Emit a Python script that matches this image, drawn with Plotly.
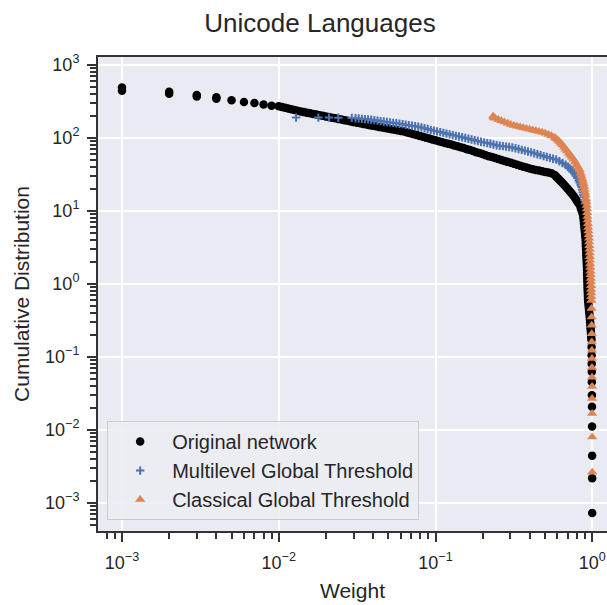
import plotly.graph_objects as go

# ---------------- data ----------------
# Original network
orig_w = [0.001, 0.001, 0.002, 0.002, 0.003, 0.003, 0.004, 0.004, 0.005, 0.006, 0.007, 0.008, 0.009,
          0.01000, 0.01047, 0.01096, 0.01148, 0.01202, 0.01259, 0.01318, 0.01380,
          0.01445, 0.01514, 0.01585, 0.01660, 0.01738, 0.01820, 0.01905, 0.01995, 0.02089, 0.02188,
          0.02291, 0.02399, 0.02512, 0.02630, 0.02754, 0.02884, 0.03020, 0.03162, 0.03311, 0.03467,
          0.03631, 0.03802, 0.03981, 0.04169, 0.04365, 0.04571, 0.04786, 0.05012, 0.05248, 0.05495,
          0.05754, 0.06026, 0.06310, 0.06607, 0.06918, 0.07244, 0.07586, 0.07943, 0.08318, 0.08710,
          0.09120, 0.09550, 0.1000, 0.1047, 0.1096, 0.1148, 0.1202, 0.1259, 0.1318, 0.1380,
          0.1445, 0.1514, 0.1585, 0.1660, 0.1738, 0.1820, 0.1905, 0.1995, 0.2089, 0.2188,
          0.2291, 0.2399, 0.2512, 0.2630, 0.2754, 0.2884, 0.3020, 0.3162, 0.3311, 0.3467,
          0.3631, 0.3802, 0.3981, 0.4169, 0.4365, 0.4571, 0.4786, 0.5012, 0.5248, 0.5495,
          0.5754, 0.5888, 0.6026, 0.6166, 0.6310, 0.6457, 0.6607, 0.6761, 0.6918, 0.7079,
          0.7244, 0.7413, 0.7586, 0.7762, 0.7943, 0.8128, 0.8318,
          0.846, 0.859, 0.871, 0.8774, 0.8814, 0.8851, 0.8889, 0.8928, 0.8965, 0.9004,
          0.9043, 0.9078, 0.9097, 0.9116, 0.9135, 0.9154, 0.9171, 0.9190, 0.9209, 0.9228,
          0.9247, 0.9260, 0.9273, 0.9286, 0.9298, 0.9311, 0.9324, 0.9337, 0.9352, 0.9365,
          0.9378, 0.9391, 0.9419, 0.9460, 0.9502, 0.9543, 0.9585, 0.9627, 0.9667, 0.9698,
          0.9727, 0.9757, 0.9788, 0.9818, 0.9847, 0.9879,
          0.990, 0.991, 0.992, 0.993, 0.994, 0.995, 0.996, 0.997, 0.998, 0.9985, 0.999]
orig_y = [484, 437, 424, 398, 382, 365, 356, 340, 324, 308, 298, 283, 274,
          268.5, 262.4, 256.4, 250.6, 244.9, 239.3, 233.9, 228.6,
          223.3, 218.8, 214.8, 210.4, 206.5, 202.3, 198.6, 195.0, 191.0, 187.5,
          183.7, 180.3, 176.6, 173.0, 169.8, 166.3, 162.9, 160.0, 156.7, 153.5,
          150.7, 147.6, 144.9, 142.6, 140.0, 137.4, 134.9, 132.7, 130.3, 127.9,
          125.6, 123.6, 121.1, 117.8, 114.6, 111.4, 108.4, 105.4, 102.6, 99.8,
          97.1, 94.4, 91.8, 89.3, 86.9, 84.5, 82.4, 80.2, 78.0, 75.9,
          73.8, 71.8, 69.5, 67.5, 65.3, 63.2, 61.4, 59.4, 57.5, 55.7,
          54.1, 52.4, 50.8, 49.3, 47.9, 46.5, 45.1, 43.8, 42.5, 41.2,
          40.0, 38.8, 37.7, 36.9, 36.1, 35.4, 34.7, 33.9, 33.2, 32.5,
          30.7, 29.2, 27.8, 26.4, 25.1, 23.9, 22.6, 21.4, 20.2, 19.1,
          18.0, 17.0, 16.0, 14.9, 13.8, 12.8, 11.9,
          10.7, 9.77, 8.91, 8.13, 7.41, 6.76, 6.17, 5.62, 5.13, 4.68,
          4.27, 3.89, 3.55, 3.24, 2.95, 2.69, 2.45, 2.24, 2.04, 1.86,
          1.70, 1.55, 1.41, 1.29, 1.17, 1.07, 0.977, 0.891, 0.813, 0.741,
          0.676, 0.617, 0.562, 0.513, 0.468, 0.427, 0.389, 0.355, 0.324, 0.295,
          0.269, 0.245, 0.224, 0.204, 0.186, 0.170,
          0.135, 0.104, 0.080, 0.062, 0.045, 0.0295, 0.0206, 0.011, 0.0044, 0.00216, 0.00072]

# Multilevel Global Threshold
multi_w = [0.0129, 0.0179, 0.0209, 0.0240,
           0.02924, 0.03090, 0.03236, 0.03388, 0.03548, 0.03715, 0.03890, 0.04074, 0.04266,
           0.04467, 0.04677, 0.04898, 0.05129, 0.05370, 0.05623, 0.05888, 0.06166, 0.06457,
           0.06761, 0.07079, 0.07413, 0.07762, 0.08128, 0.08511, 0.08913, 0.09333, 0.09772,
           0.1023, 0.1072, 0.1122, 0.1175, 0.1230, 0.1288, 0.1349, 0.1413, 0.1479, 0.1549,
           0.1622, 0.1698, 0.1778, 0.1862, 0.1950, 0.2042, 0.2138, 0.2239, 0.2344, 0.2455,
           0.2570, 0.2692, 0.2818, 0.2951, 0.3090, 0.3236, 0.3388, 0.3548, 0.3715, 0.3890,
           0.4074, 0.4266, 0.4467, 0.4677, 0.4898, 0.5129, 0.5370, 0.5623, 0.5888, 0.6166,
           0.6457, 0.6761, 0.6998, 0.7161, 0.7328, 0.7499, 0.7674, 0.7852, 0.8035, 0.8204,
           0.8318, 0.8433, 0.8551, 0.8630, 0.8710, 0.8790, 0.8851, 0.8913, 0.8974]
multi_y = [188, 188, 188, 187,
           186.2, 184.1, 182.4, 180.7, 179.1, 177.8, 175.8, 173.4, 171.0,
           168.3, 166.0, 163.7, 161.4, 159.2, 157.0, 154.9, 152.8, 150.3,
           147.9, 145.5, 143.2, 140.9, 138.0, 134.6, 130.9, 127.6, 124.5,
           121.6, 118.9, 116.1, 113.2, 110.7, 108.1, 105.7, 103.3, 100.9, 98.6,
           96.4, 94.2, 92.0, 89.9, 87.9, 85.9, 84.1, 82.2, 80.4, 78.5,
           77.4, 76.4, 75.3, 74.3, 73.3, 71.6, 69.8, 67.9, 66.2, 64.6,
           62.8, 61.0, 59.2, 57.5, 55.8, 54.2, 52.8, 51.4, 50.1, 47.4,
           44.9, 42.4, 39.8, 37.9, 36.1, 34.4, 32.2, 30.1, 28.0, 25.6,
           24.0, 22.5, 21.0, 19.3, 17.8, 16.3, 15.3, 13.9, 12.6]

# Classical Global Threshold
class_w = [0.233, 0.236, 0.2399, 0.2512, 0.2630, 0.2754, 0.2884, 0.3020,
           0.3162, 0.3311, 0.3467, 0.3631, 0.3802, 0.3981, 0.4169, 0.4365, 0.4571, 0.4786,
           0.5012, 0.5248, 0.5495, 0.5754, 0.5888, 0.6026, 0.6166, 0.6310, 0.6457, 0.6607,
           0.6761, 0.6918, 0.7079, 0.7244, 0.7413, 0.7586, 0.7762, 0.7943, 0.8128, 0.8318,
           0.8433, 0.8531, 0.8630, 0.8710, 0.8790, 0.8851, 0.8913, 0.8974, 0.9036, 0.9120, 0.9183,
           0.9218, 0.9252, 0.9288, 0.9322, 0.9357, 0.9393, 0.9428, 0.9462, 0.9499, 0.9535,
           0.9563, 0.9585, 0.9607, 0.9629, 0.9652, 0.9674, 0.9696, 0.9719, 0.9741, 0.9763,
           0.9786, 0.9808, 0.9824, 0.9835, 0.9847, 0.9858, 0.9870,
           0.9900, 0.9910, 0.9920, 0.9930, 0.9940, 0.9950, 0.9955, 0.9960, 0.9965, 0.9970,
           0.9975, 0.9980, 0.9985, 0.9990]
class_y = [196, 188.4, 183.7, 177.0, 170.2, 164.1, 157.8, 151.7,
           146.6, 143.2, 140.0, 136.5, 133.4, 130.3, 127.1, 124.2, 121.1, 118.0,
           114.3, 110.2, 106.4, 100.5, 96.4, 92.3, 88.5, 83.9, 78.9, 74.0,
           69.5, 65.3, 61.2, 57.5, 54.0, 50.5, 46.4, 42.6, 39.1, 36.0,
           32.5, 29.7, 27.1, 25.2, 23.4, 21.4, 19.5, 17.8, 16.3, 14.4, 13.1,
           11.7, 10.5, 9.33, 8.32, 7.41, 6.61, 5.89, 5.25, 4.68, 4.17,
           3.72, 3.31, 2.95, 2.63, 2.34, 2.09, 1.86, 1.66, 1.48, 1.32,
           1.17, 1.05, 0.933, 0.832, 0.741, 0.661, 0.589,
           0.457, 0.349, 0.268, 0.206, 0.158, 0.122, 0.094, 0.071, 0.052, 0.039,
           0.0266, 0.0166, 0.0079, 0.0026]

x_major = [0.001, 0.01, 0.1, 1]
x_major_text = ["10<sup>−3</sup>", "10<sup>−2</sup>", "10<sup>−1</sup>", "10<sup>0</sup>"]
y_major = [0.001, 0.01, 0.1, 1, 10, 100, 1000]
y_major_text = ["10<sup>−3</sup>", "10<sup>−2</sup>", "10<sup>−1</sup>", "10<sup>0</sup>",
                "10<sup>1</sup>", "10<sup>2</sup>", "10<sup>3</sup>"]


def minors(lo_exp, hi_exp):
    out = []
    for e in range(lo_exp, hi_exp + 1):
        for m in range(2, 10):
            out.append(m * 10.0 ** e)
    return out


FONT = "Liberation Sans, Arial, sans-serif"
TXT = "#262626"
AX = "#333333"

fig = go.Figure()
fig.add_trace(go.Scatter(
    x=orig_w, y=orig_y, mode="markers", name="Original network",
    marker=dict(symbol="circle", size=8.5, color="black", line=dict(width=0))))
fig.add_trace(go.Scatter(
    x=multi_w, y=multi_y, mode="markers", name="Multilevel Global Threshold",
    marker=dict(symbol="cross-thin", size=6, color="#4C72B0",
                line=dict(width=2, color="#4C72B0"))))
fig.add_trace(go.Scatter(
    x=class_w, y=class_y, mode="markers", name="Classical Global Threshold",
    marker=dict(symbol="triangle-up", size=9, color="#DD8452", line=dict(width=0))))

fig.update_layout(
    width=607, height=605,
    margin=dict(l=98, r=0, t=57, b=74),
    paper_bgcolor="white", plot_bgcolor="#EAEAF2",
    font=dict(family=FONT, color=TXT, size=17),
    title=dict(text="Unicode Languages", x=320 / 607, xanchor="center", xref="container",
               y=1 - 23 / 605, yanchor="middle", yref="container",
               font=dict(size=26, color=TXT, family=FONT)),
    showlegend=True,
    legend=dict(x=0.018, y=0.023, xanchor="left", yanchor="bottom",
                bgcolor="rgba(236,236,243,0.9)", bordercolor="#CCCCCC", borderwidth=1,
                font=dict(size=20, color=TXT, family=FONT), itemwidth=54,
                tracegroupgap=0),
)
fig.update_xaxes(
    type="log", range=[-3.153, 0.094],
    tickmode="array", tickvals=x_major, ticktext=x_major_text,
    ticks="outside", ticklen=9, tickwidth=2, tickcolor=AX, ticklabelstandoff=5,
    showline=True, linecolor=AX, linewidth=2, mirror=True,
    showgrid=True, gridcolor="white", gridwidth=1.5, zeroline=False,
    tickfont=dict(size=18, color=TXT, family=FONT),
    minor=dict(tickmode="array", tickvals=minors(-4, 0), ticks="outside", ticklen=6,
               tickwidth=1.5, tickcolor=AX, showgrid=False),
    title=dict(text="Weight", font=dict(size=21, color=TXT, family=FONT), standoff=12),
)
fig.update_yaxes(
    type="log", range=[-3.389, 3.104],
    tickmode="array", tickvals=y_major, ticktext=y_major_text,
    ticks="outside", ticklen=9, tickwidth=2, tickcolor=AX, ticklabelstandoff=4,
    showline=True, linecolor=AX, linewidth=2, mirror=False,
    showgrid=True, gridcolor="white", gridwidth=1.5, zeroline=False,
    tickfont=dict(size=18, color=TXT, family=FONT),
    minor=dict(tickmode="array", tickvals=minors(-4, 3), ticks="outside", ticklen=6,
               tickwidth=1.5, tickcolor=AX, showgrid=False),
    title=dict(text="Cumulative Distribution", font=dict(size=21, color=TXT, family=FONT),
               standoff=10),
)

fig.write_html("out.html")
